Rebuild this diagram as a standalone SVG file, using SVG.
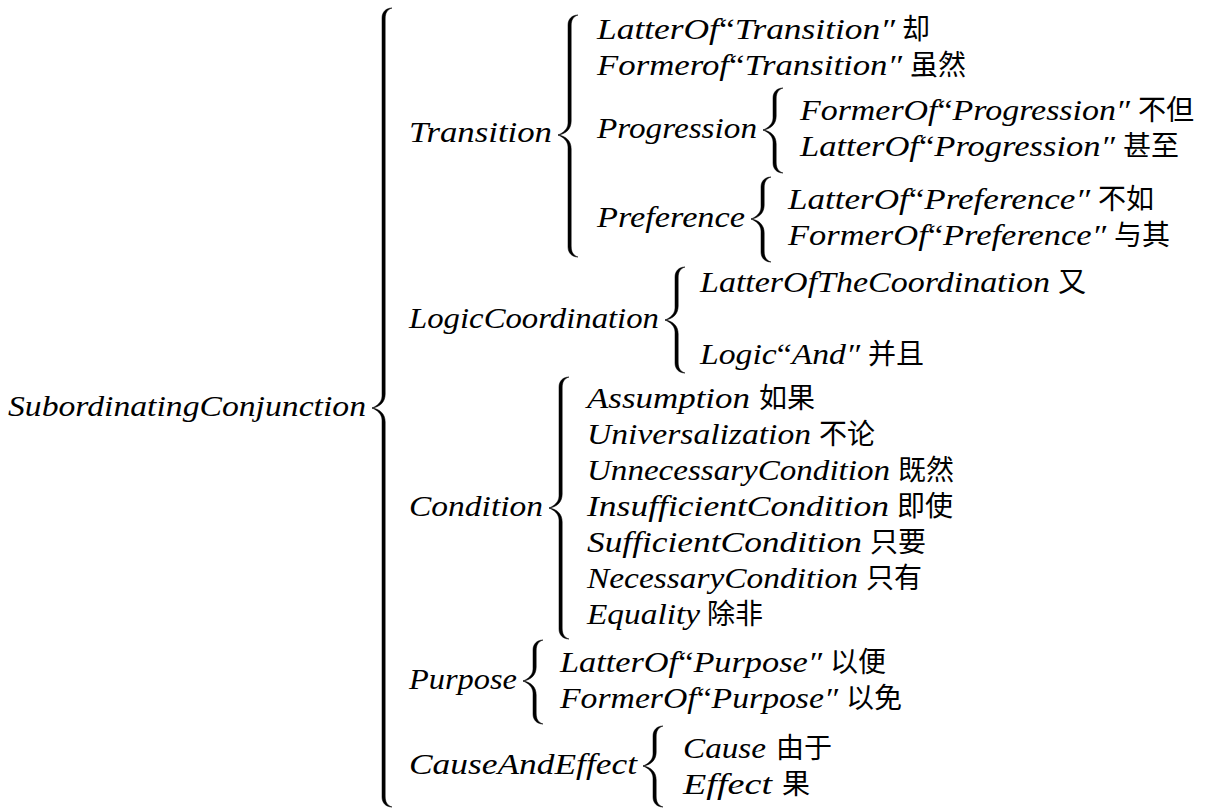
<svg xmlns="http://www.w3.org/2000/svg" width="1209" height="809" viewBox="0 0 1209 809">
<style>
.m{font-style:italic;font-size:30px;fill:#000}
.q{font-style:normal}
.c{font-size:28px;fill:#000}
.br{fill:#000;stroke:#000;stroke-width:0.5}
</style>
<rect width="1209" height="809" fill="#fff"/>
<g id="connectors">
<path class="br" d="M392,8 C386,8 382,12 382,18 L382,396 C382,402 377,406 372,408 C377,410 382,414 382,420 L382,797 C382,803 386,807 392,807 C387.2,805.5 385.2,802 385.2,796 L385.2,422 C385.2,414 380,409 372,408 C380,407 385.2,402 385.2,394 L385.2,19 C385.2,13 387.2,9.5 392,8 Z"/>
<path class="br" d="M578,15 C572,15 568,19 568,25 L568,123 C568,129 563,133 558,135 C563,137 568,141 568,147 L568,247 C568,253 572,257 578,257 C573.2,255.5 571.2,252 571.2,246 L571.2,149 C571.2,141 566,136 558,135 C566,134 571.2,129 571.2,121 L571.2,26 C571.2,20 573.2,16.5 578,15 Z"/>
<path class="br" d="M783,88 C777,88 773,92 773,98 L773,118 C773,124 768,128 763,130 C768,132 773,136 773,142 L773,163 C773,169 777,173 783,173 C778.2,171.5 776.2,168 776.2,162 L776.2,144 C776.2,136 771,131 763,130 C771,129 776.2,124 776.2,116 L776.2,99 C776.2,93 778.2,89.5 783,88 Z"/>
<path class="br" d="M771,177 C765,177 761,181 761,187 L761,207 C761,213 756,217 751,219 C756,221 761,225 761,231 L761,252 C761,258 765,262 771,262 C766.2,260.5 764.2,257 764.2,251 L764.2,233 C764.2,225 759,220 751,219 C759,218 764.2,213 764.2,205 L764.2,188 C764.2,182 766.2,178.5 771,177 Z"/>
<path class="br" d="M685,267 C679,267 675,271 675,277 L675,308 C675,314 670,318 665,320 C670,322 675,326 675,332 L675,363 C675,369 679,373 685,373 C680.2,371.5 678.2,368 678.2,362 L678.2,334 C678.2,326 673,321 665,320 C673,319 678.2,314 678.2,306 L678.2,278 C678.2,272 680.2,268.5 685,267 Z"/>
<path class="br" d="M569,377 C563,377 559,381 559,387 L559,496 C559,502 554,506 549,508 C554,510 559,514 559,520 L559,629 C559,635 563,639 569,639 C564.2,637.5 562.2,634 562.2,628 L562.2,522 C562.2,514 557,509 549,508 C557,507 562.2,502 562.2,494 L562.2,388 C562.2,382 564.2,378.5 569,377 Z"/>
<path class="br" d="M543,640 C537,640 533,644 533,650 L533,669 C533,675 528,679 523,681 C528,683 533,687 533,693 L533,714 C533,720 537,724 543,724 C538.2,722.5 536.2,719 536.2,713 L536.2,695 C536.2,687 531,682 523,681 C531,680 536.2,675 536.2,667 L536.2,651 C536.2,645 538.2,641.5 543,640 Z"/>
<path class="br" d="M663,726 C657,726 653,730 653,736 L653,754 C653,760 648,764 643,766 C648,768 653,772 653,778 L653,797 C653,803 657,807 663,807 C658.2,805.5 656.2,802 656.2,796 L656.2,780 C656.2,772 651,767 643,766 C651,765 656.2,760 656.2,752 L656.2,737 C656.2,731 658.2,727.5 663,726 Z"/>
</g>
<g font-family="Liberation Serif">
<g id="n-root"><text class="m" font-family="Liberation Serif" x="8" y="416" textLength="358" lengthAdjust="spacingAndGlyphs">SubordinatingConjunction</text></g>
<g id="n-transition"><text class="m" font-family="Liberation Serif" x="409" y="142" textLength="143" lengthAdjust="spacingAndGlyphs">Transition</text></g>
<g id="n-latter-transition"><text class="m" font-family="Liberation Serif" x="597" y="39" textLength="298" lengthAdjust="spacingAndGlyphs">LatterOf<tspan class="q">“</tspan>Transition″</text><text class="c" font-family="Noto Sans CJK SC" x="902" y="39">却</text></g>
<g id="n-former-transition"><text class="m" font-family="Liberation Serif" x="597" y="75" textLength="305" lengthAdjust="spacingAndGlyphs">Formerof<tspan class="q">“</tspan>Transition″</text><text class="c" font-family="Noto Sans CJK SC" x="910" y="75">虽然</text></g>
<g id="n-progression"><text class="m" font-family="Liberation Serif" x="597" y="138" textLength="160" lengthAdjust="spacingAndGlyphs">Progression</text></g>
<g id="n-former-progression"><text class="m" font-family="Liberation Serif" x="800" y="120" textLength="330" lengthAdjust="spacingAndGlyphs">FormerOf<tspan class="q">“</tspan>Progression″</text><text class="c" font-family="Noto Sans CJK SC" x="1138" y="120">不但</text></g>
<g id="n-latter-progression"><text class="m" font-family="Liberation Serif" x="800" y="156" textLength="315" lengthAdjust="spacingAndGlyphs">LatterOf<tspan class="q">“</tspan>Progression″</text><text class="c" font-family="Noto Sans CJK SC" x="1123" y="156">甚至</text></g>
<g id="n-preference"><text class="m" font-family="Liberation Serif" x="597" y="227" textLength="148" lengthAdjust="spacingAndGlyphs">Preference</text></g>
<g id="n-latter-preference"><text class="m" font-family="Liberation Serif" x="788" y="209" textLength="302" lengthAdjust="spacingAndGlyphs">LatterOf<tspan class="q">“</tspan>Preference″</text><text class="c" font-family="Noto Sans CJK SC" x="1098" y="209">不如</text></g>
<g id="n-former-preference"><text class="m" font-family="Liberation Serif" x="788" y="245" textLength="318" lengthAdjust="spacingAndGlyphs">FormerOf<tspan class="q">“</tspan>Preference″</text><text class="c" font-family="Noto Sans CJK SC" x="1114" y="245">与其</text></g>
<g id="n-logiccoordination"><text class="m" font-family="Liberation Serif" x="409" y="328" textLength="250" lengthAdjust="spacingAndGlyphs">LogicCoordination</text></g>
<g id="n-latter-coordination"><text class="m" font-family="Liberation Serif" x="700" y="292" textLength="350" lengthAdjust="spacingAndGlyphs">LatterOfTheCoordination</text><text class="c" font-family="Noto Sans CJK SC" x="1058" y="292">又</text></g>
<g id="n-logic-and"><text class="m" font-family="Liberation Serif" x="700" y="364" textLength="160" lengthAdjust="spacingAndGlyphs">Logic<tspan class="q">“</tspan>And″</text><text class="c" font-family="Noto Sans CJK SC" x="868" y="364">并且</text></g>
<g id="n-condition"><text class="m" font-family="Liberation Serif" x="409" y="516" textLength="134" lengthAdjust="spacingAndGlyphs">Condition</text></g>
<g id="n-assumption"><text class="m" font-family="Liberation Serif" x="587" y="408" textLength="163" lengthAdjust="spacingAndGlyphs">Assumption</text><text class="c" font-family="Noto Sans CJK SC" x="759" y="408">如果</text></g>
<g id="n-universalization"><text class="m" font-family="Liberation Serif" x="587" y="444" textLength="224" lengthAdjust="spacingAndGlyphs">Universalization</text><text class="c" font-family="Noto Sans CJK SC" x="819" y="444">不论</text></g>
<g id="n-unnecessary"><text class="m" font-family="Liberation Serif" x="587" y="480" textLength="303" lengthAdjust="spacingAndGlyphs">UnnecessaryCondition</text><text class="c" font-family="Noto Sans CJK SC" x="898" y="480">既然</text></g>
<g id="n-insufficient"><text class="m" font-family="Liberation Serif" x="587" y="516" textLength="302" lengthAdjust="spacingAndGlyphs">InsufficientCondition</text><text class="c" font-family="Noto Sans CJK SC" x="897" y="516">即使</text></g>
<g id="n-sufficient"><text class="m" font-family="Liberation Serif" x="587" y="552" textLength="275" lengthAdjust="spacingAndGlyphs">SufficientCondition</text><text class="c" font-family="Noto Sans CJK SC" x="870" y="552">只要</text></g>
<g id="n-necessary"><text class="m" font-family="Liberation Serif" x="587" y="588" textLength="271" lengthAdjust="spacingAndGlyphs">NecessaryCondition</text><text class="c" font-family="Noto Sans CJK SC" x="866" y="588">只有</text></g>
<g id="n-equality"><text class="m" font-family="Liberation Serif" x="587" y="624" textLength="113" lengthAdjust="spacingAndGlyphs">Equality</text><text class="c" font-family="Noto Sans CJK SC" x="707" y="624">除非</text></g>
<g id="n-purpose"><text class="m" font-family="Liberation Serif" x="409" y="689" textLength="108" lengthAdjust="spacingAndGlyphs">Purpose</text></g>
<g id="n-latter-purpose"><text class="m" font-family="Liberation Serif" x="560" y="672" textLength="262" lengthAdjust="spacingAndGlyphs">LatterOf<tspan class="q">“</tspan>Purpose″</text><text class="c" font-family="Noto Sans CJK SC" x="830" y="672">以便</text></g>
<g id="n-former-purpose"><text class="m" font-family="Liberation Serif" x="560" y="708" textLength="278" lengthAdjust="spacingAndGlyphs">FormerOf<tspan class="q">“</tspan>Purpose″</text><text class="c" font-family="Noto Sans CJK SC" x="846" y="708">以免</text></g>
<g id="n-causeandeffect"><text class="m" font-family="Liberation Serif" x="409" y="774" textLength="228" lengthAdjust="spacingAndGlyphs">CauseAndEffect</text></g>
<g id="n-cause"><text class="m" font-family="Liberation Serif" x="683" y="758" textLength="83" lengthAdjust="spacingAndGlyphs">Cause</text><text class="c" font-family="Noto Sans CJK SC" x="776" y="758">由于</text></g>
<g id="n-effect"><text class="m" font-family="Liberation Serif" x="683" y="794" textLength="89" lengthAdjust="spacingAndGlyphs">Effect</text><text class="c" font-family="Noto Sans CJK SC" x="782" y="794">果</text></g>
</g>
</svg>
